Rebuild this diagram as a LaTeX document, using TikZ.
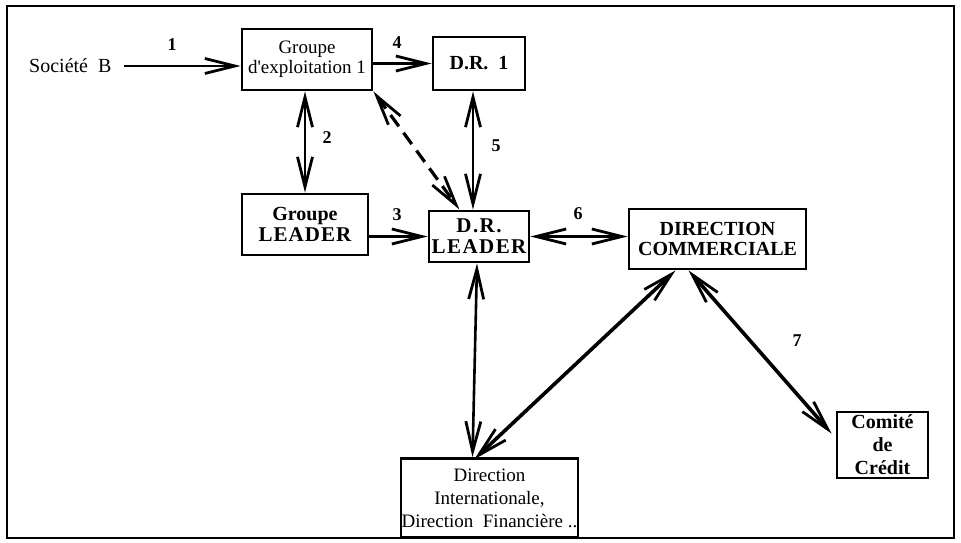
\documentclass[tikz,border=0pt]{standalone}
\usepackage{fontspec}
\setmainfont{Liberation Serif}
\usetikzlibrary{arrows.meta,calc}

\tikzset{
  box/.style={draw, line width=2.8pt, inner sep=0pt, align=center,
              font=\fontsize{19}{20}\selectfont},
  boldbox/.style={box, font=\fontsize{20}{20}\bfseries\selectfont},
  barb/.tip={Straight Barb[length=30pt,width=15pt,line width=2.8pt]},
  arr/.style={line width=2.6pt, -barb},
  darr/.style={line width=2.6pt, barb-barb},
  num/.style={font=\fontsize{18}{18}\bfseries\selectfont, inner sep=0pt},
}

\begin{document}
\begin{tikzpicture}[x=1pt, y=-1pt]
  \useasboundingbox (0,0) rectangle (961,542);
  \draw[line width=2pt] (7,6) rectangle (954,538);

  % boxes
  \node[font=\fontsize{20}{20}\selectfont, anchor=west, inner sep=0pt] (soc) at (29,66) {Société\ \ B};
  \node[box, minimum width=130pt, minimum height=61pt] (ge) at (307,59.5) {Groupe\\d\textquotesingle exploitation 1};
  \node[boldbox, minimum width=92pt, minimum height=53pt] (dr1) at (479,63.5) {D.R.\ \ 1};
  \node[boldbox, minimum width=126pt, minimum height=61pt, font=\fontsize{20}{21}\bfseries\selectfont] (gl) at (305,224.5)
    {Groupe\\{\fontsize{21}{21}\selectfont\addfontfeature{LetterSpace=5}LEADER}};
  \node[boldbox, minimum width=100pt, minimum height=51pt, font=\fontsize{21}{21}\bfseries\addfontfeature{LetterSpace=7}\selectfont]
    (drl) at (479,236.5) {D.R.\\LEADER};
  \node[boldbox, minimum width=177pt, minimum height=60pt] (dc) at (717.5,239) {DIRECTION\\COMMERCIALE};
  \node[box, minimum width=177pt, minimum height=79pt, font=\fontsize{19}{23}\selectfont] (di) at (489.5,498)
    {Direction\\Internationale,\\Direction\ \ Financière ..};
  \node[boldbox, minimum width=91pt, minimum height=66pt, font=\fontsize{20}{23}\bfseries\selectfont] (cc) at (882.5,445)
    {Comité\\de\\Crédit};

  % connectors
  \draw[arr, shorten <=12pt] (soc.east) -- (soc.east -| ge.west);
  \draw[arr] (ge.east |- dr1) -- (dr1.west);
  \draw[darr] (gl.north |- ge.south) -- (gl.north);
  \draw[darr, line width=3.2pt, dash pattern=on 14pt off 8pt] (ge.south east) -- ($(drl.north west)!0.31!(drl.north east)$);
  \draw[darr] ([xshift=-6pt]dr1.south) -- ([xshift=-6pt]dr1.south |- drl.north);
  \draw[arr] (gl.east |- drl) -- (drl.west);
  \draw[darr] (drl.east) -- (drl.east -| dc.west);
  \draw[darr] ([xshift=-2pt]drl.south) -- ([xshift=-17pt]di.north);
  \draw[darr, line width=3.6pt] ([xshift=-42pt]dc.south) -- ([xshift=-15pt,yshift=-2pt]di.north);
  \draw[darr, line width=3.6pt] ([xshift=-29pt]dc.south) -- ($(cc.north west)+(-4,23)$);

  % step numbers
  \node[num] (n1) at (172,45) {1};
  \node[num] (n4) at (397,43) {4};
  \node[num] (n2) at (327,138) {2};
  \node[num] (n5) at (496,146) {5};
  \node[num] (n3) at (397,215) {3};
  \node[num] (n6) at (578,214) {6};
  \node[num] (n7) at (797,341) {7};
\end{tikzpicture}
\end{document}
